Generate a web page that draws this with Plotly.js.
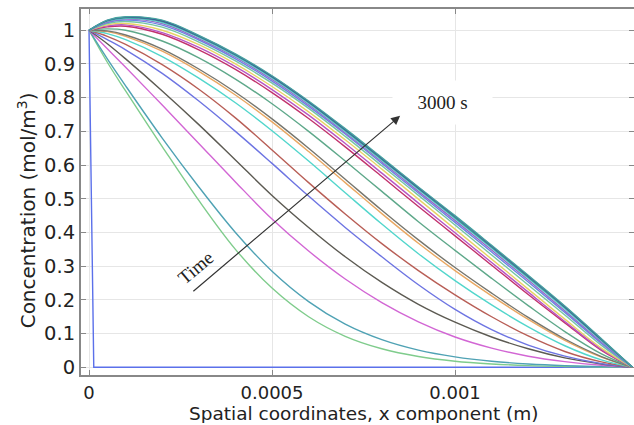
<!DOCTYPE html>
<html>
<head>
<meta charset="utf-8">
<script src="https://cdn.plot.ly/plotly-3.0.1.min.js"></script>
<style>html,body{margin:0;padding:0;background:#fff;}#chart{width:634px;height:425px;}</style>
</head>
<body>
<div id="chart"></div>
<script>
// Spatial positions (m)
const xGrid = [0, 0.00005, 0.0001, 0.0002, 0.0003, 0.0004, 0.0005, 0.0006, 0.0007, 0.0008, 0.0009, 0.001, 0.0011, 0.0012, 0.0013, 0.0014, 0.001485];
const xInitial = [0, 0.000013, 0.001485];
const cInitial = [1, 0, 0];

// Concentration profiles (mol/m^3), earliest to latest (3000 s)
const c01 = [1, 0.905, 0.82, 0.655, 0.495, 0.35, 0.235, 0.15, 0.092, 0.055, 0.032, 0.018, 0.01, 0.005, 0.0025, 0.001, 0];
const c02 = [1, 0.915, 0.835, 0.68, 0.535, 0.40, 0.285, 0.195, 0.128, 0.082, 0.051, 0.031, 0.018, 0.01, 0.005, 0.002, 0];
const c03 = [1, 0.945, 0.89, 0.778, 0.664, 0.55, 0.44, 0.345, 0.262, 0.192, 0.135, 0.09, 0.057, 0.033, 0.017, 0.006, 0];
const c04 = [1, 0.96, 0.915, 0.82, 0.72, 0.615, 0.51, 0.415, 0.328, 0.252, 0.187, 0.134, 0.09, 0.055, 0.028, 0.01, 0];
const c05 = [1, 0.972, 0.942, 0.872, 0.79, 0.70, 0.605, 0.508, 0.415, 0.328, 0.245, 0.172, 0.112, 0.066, 0.033, 0.011, 0];
const c06 = [1, 0.982, 0.958, 0.898, 0.825, 0.74, 0.645, 0.548, 0.455, 0.367, 0.287, 0.215, 0.15, 0.093, 0.047, 0.016, 0];
const c07 = [1, 0.99, 0.972, 0.922, 0.858, 0.785, 0.702, 0.612, 0.518, 0.425, 0.337, 0.257, 0.185, 0.12, 0.064, 0.022, 0];
const c08 = [1, 0.996, 0.982, 0.938, 0.878, 0.808, 0.728, 0.64, 0.548, 0.456, 0.368, 0.287, 0.212, 0.142, 0.08, 0.03, 0];
const c09 = [1, 0.998, 0.986, 0.944, 0.885, 0.816, 0.737, 0.65, 0.558, 0.466, 0.378, 0.296, 0.22, 0.148, 0.084, 0.032, 0];
const c10 = [1, 1.004, 1.0, 0.968, 0.918, 0.855, 0.782, 0.70, 0.612, 0.522, 0.432, 0.347, 0.264, 0.183, 0.106, 0.04, 0];
const c11 = [1, 1.01, 1.012, 0.988, 0.942, 0.884, 0.815, 0.738, 0.654, 0.566, 0.477, 0.39, 0.303, 0.216, 0.132, 0.05, 0];
const c12 = [1, 1.013, 1.016, 0.993, 0.949, 0.892, 0.824, 0.748, 0.664, 0.576, 0.487, 0.399, 0.311, 0.223, 0.136, 0.053, 0];
const c13 = [1, 1.016, 1.02, 1.0, 0.957, 0.90, 0.833, 0.758, 0.675, 0.588, 0.499, 0.41, 0.321, 0.232, 0.143, 0.057, 0];
const c14 = [1, 1.02, 1.026, 1.009, 0.965, 0.909, 0.843, 0.768, 0.685, 0.598, 0.51, 0.422, 0.333, 0.244, 0.155, 0.065, 0];
const c15 = [1, 1.023, 1.03, 1.015, 0.971, 0.915, 0.849, 0.774, 0.692, 0.605, 0.517, 0.43, 0.342, 0.253, 0.163, 0.071, 0];
const c16 = [1, 1.025, 1.033, 1.02, 0.975, 0.92, 0.854, 0.779, 0.696, 0.61, 0.522, 0.436, 0.348, 0.259, 0.168, 0.075, 0];
const c17 = [1, 1.027, 1.035, 1.023, 0.979, 0.923, 0.858, 0.783, 0.70, 0.614, 0.527, 0.441, 0.353, 0.264, 0.173, 0.079, 0];
const c18 = [1, 1.028, 1.037, 1.026, 0.981, 0.926, 0.861, 0.786, 0.703, 0.617, 0.53, 0.444, 0.356, 0.267, 0.177, 0.081, 0];
const c19 = [1, 1.029, 1.039, 1.028, 0.983, 0.928, 0.863, 0.788, 0.706, 0.62, 0.533, 0.448, 0.36, 0.271, 0.18, 0.083, 0];
const c20 = [1, 1.03, 1.04, 1.03, 0.985, 0.93, 0.865, 0.79, 0.708, 0.622, 0.535, 0.45, 0.362, 0.273, 0.182, 0.085, 0];

const profiles = [c01, c02, c03, c04, c05, c06, c07, c08, c09, c10, c11, c12, c13, c14, c15, c16, c17, c18, c19, c20];
const colors = ['#7fcc8c', '#4fa2b4', '#d266d4', '#5c5a52', '#6d74e2', '#b85e56', '#52d6cc', '#eaa862', '#76766e', '#5ea88a',
                '#c2326c', '#b855c4', '#e8d266', '#74c6a2', '#6a86e4', '#9a66c8', '#66d2d2', '#3f9a96', '#3b4f96', '#48a4a0'];

const xTickVals = [0, 0.0005, 0.001];
const xTickText = ['0', '0.0005', '0.001'];
const yTickVals = [0, 0.1, 0.2, 0.3, 0.4, 0.5, 0.6, 0.7, 0.8, 0.9, 1];
const yTickText = ['0', '0.1', '0.2', '0.3', '0.4', '0.5', '0.6', '0.7', '0.8', '0.9', '1'];

const traces = [{
  x: xInitial, y: cInitial, type: 'scatter', mode: 'lines',
  line: {color: '#5b70ea', width: 1.4}, hoverinfo: 'skip'
}];
profiles.forEach((p, i) => {
  traces.push({x: xGrid, y: p, type: 'scatter', mode: 'lines',
    line: {color: colors[i], width: 1.4, shape: 'spline', smoothing: 1}, hoverinfo: 'skip'});
});

const font = 'DejaVu Sans, sans-serif';
const serif = 'Liberation Serif, Times New Roman, serif';
const layout = {
  width: 634, height: 425,
  margin: {l: 81, r: 0, t: 9, b: 50},
  paper_bgcolor: '#fff', plot_bgcolor: '#fff',
  showlegend: false,
  font: {family: font, size: 19, color: '#222'},
  xaxis: {
    range: [-0.0000219, 0.001489], tickvals: xTickVals, ticktext: xTickText,
    showgrid: true, gridcolor: '#e6e6e6', gridwidth: 1, zeroline: false,
    showline: true, linecolor: '#888', linewidth: 2, mirror: 'allticks',
    ticks: 'inside', ticklen: 5, tickcolor: '#888',
    tickfont: {family: font, size: 18, color: '#222'}
  },
  yaxis: {
    range: [-0.0228, 1.063], tickvals: yTickVals, ticktext: yTickText,
    showgrid: true, gridcolor: '#e6e6e6', gridwidth: 1, zeroline: false,
    showline: true, linecolor: '#888', linewidth: 2, mirror: 'allticks',
    ticks: 'inside', ticklen: 5, tickcolor: '#888',
    tickfont: {family: font, size: 19.5, color: '#222'}
  },
  annotations: [
    {x: 0.51, y: -0.134, xref: 'paper', yref: 'paper', text: 'Spatial coordinates, x component (m)',
     showarrow: false, xanchor: 'center', yanchor: 'bottom', height: 20, borderpad: 0, valign: 'middle',
     font: {family: font, size: 18.5, color: '#222'}},
    {x: -0.0976, y: 0.45, xref: 'paper', yref: 'paper', text: 'Concentration (mol/m<sup>3</sup>)',
     showarrow: false, textangle: -90, xanchor: 'center', yanchor: 'middle',
     font: {family: font, size: 20, color: '#222'}},
    {x: 0.000967, y: 0.785, xref: 'x', yref: 'y', text: '3000 s', showarrow: false,
     font: {family: serif, size: 19, color: '#222'},
     bgcolor: '#fff', width: 97, height: 41},
    {x: 0.000292, y: 0.296, xref: 'x', yref: 'y', text: 'Time', showarrow: false, textangle: -40,
     font: {family: serif, size: 19, color: '#222'}},
    {x: 0.00085, y: 0.746, ax: 0.000281, ay: 0.222, xref: 'x', yref: 'y', axref: 'x', ayref: 'y',
     text: '', showarrow: true, arrowhead: 2, arrowsize: 1.5, arrowwidth: 1.2, arrowcolor: '#333', standoff: 0}
  ]
};

Plotly.newPlot('chart', traces, layout, {displayModeBar: false, staticPlot: true});
</script>
</body>
</html>
